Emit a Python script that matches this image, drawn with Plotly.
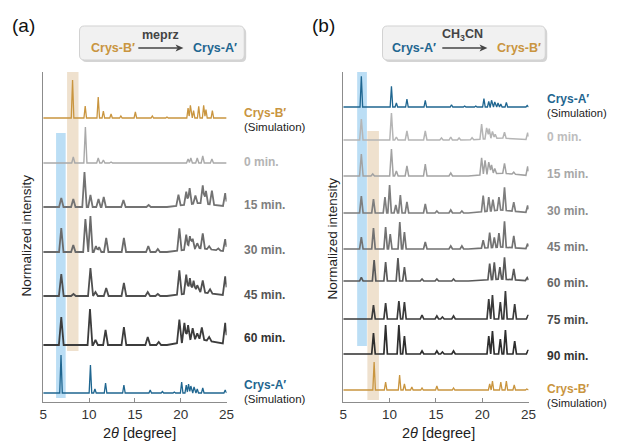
import plotly.graph_objects as go

W, H = 617, 443

# ---------------- data (2theta positions and relative intensities) -------------
# Panel (a): Crys-B' -> Crys-A' (meprz)
a_Bsim_pos = [8.2, 9.58, 11.0, 11.56, 12.4, 13.47, 15.05, 16.9, 18.5, 20.8, 21.05, 21.4, 21.96, 22.5, 22.75, 23.45]
a_Bsim_h = [38, 12, 21, 7, 4, 2, 6, 2, 1, 10, 12.7, 7.3, 11.7, 12.7, 8.3, 7.3]
a_0_pos = [8.28, 9.6, 11.0, 11.56, 12.4, 20.8, 21.1, 21.8, 22.4, 23.4]
a_0_h = [6, 36, 5, 3, 1, 4, 5, 5, 7, 4]
a_15_pos = [6.97, 8.28, 9.5, 10.15, 11.03, 11.6, 13.75, 16.5, 19.75, 20.6, 20.97, 21.6, 22.4, 22.75, 23.4, 24.85]
a_15_h = [9, 8, 35, 12, 8, 10, 7, 2, 11, 13, 16, 8, 18, 13, 14, 13]
a_30_pos = [6.97, 8.28, 9.6, 10.15, 10.75, 11.1, 11.87, 13.8, 16.46, 17.5, 19.85, 20.6, 21.0, 21.3, 21.8, 22.4, 23.1, 24.1, 24.85]
a_30_h = [24, 7, 33, 36, 6, 5, 14, 14, 6, 3, 22, 15, 13, 10, 5, 15, 3, 2, 12]
a_45_pos = [6.97, 8.3, 10.15, 10.7, 11.87, 13.8, 16.4, 17.5, 19.85, 20.6, 21.0, 21.4, 21.8, 22.4, 23.2, 24.85]
a_45_h = [22, 2, 28, 4, 8, 13, 4, 2, 24, 19, 15, 12, 7, 12, 4, 19]
a_60_pos = [6.97, 10.1, 10.7, 11.8, 13.8, 16.4, 17.6, 19.85, 20.4, 20.8, 21.3, 21.8, 22.3, 23.1, 24.85]
a_60_h = [28, 36, 5, 15, 18, 8, 3, 23, 19, 16, 12, 6, 12, 4, 21]
a_Asim_pos = [6.94, 10.15, 10.64, 11.8, 13.8, 16.67, 18.0, 19.3, 20.1, 20.6, 20.85, 21.1, 21.45, 21.8, 22.4, 24.85]
a_Asim_h = [38, 28, 4, 10, 8, 3, 1.5, 1, 11, 8, 9, 7, 6, 4, 5, 3]

# Panel (b): Crys-A' -> Crys-B' (CH3CN)
b_Asim_pos = [6.95, 10.2, 10.73, 11.87, 13.85, 16.68, 18.1, 19.3, 20.18, 20.7, 21.0, 21.35, 21.7, 22.0, 22.6, 24.85]
b_Asim_h = [30.7, 20.7, 4, 8, 6.7, 2.3, 1, 1, 8.3, 5.7, 6.7, 5, 4, 3, 4.7, 1.5]
b_0_pos = [6.95, 10.2, 10.73, 11.87, 13.85, 15.6, 16.6, 17.5, 18.9, 19.93, 20.47, 20.75, 21.1, 21.4, 22.4, 24.9]
b_0_h = [21, 27, 3, 9, 9, 2, 3, 2, 2, 15, 11, 10, 7, 4, 6, 7]
b_15_pos = [6.95, 8.18, 10.2, 10.73, 11.87, 13.85, 16.6, 19.93, 20.3, 20.7, 21.0, 21.35, 22.4, 23.4, 24.9]
b_15_h = [22, 2, 27, 5, 10, 12, 3, 17, 14, 12, 9, 5, 10, 2, 9]
b_30_pos = [6.95, 8.26, 9.5, 10.0, 10.67, 11.16, 11.87, 13.85, 15.1, 16.6, 17.8, 20.1, 20.7, 21.15, 21.8, 22.4, 23.4, 24.9]
b_30_h = [17, 14, 16, 28, 8, 18, 11, 9, 2, 3, 2, 16, 14, 11, 13, 23, 9, 7]
b_45_pos = [6.95, 8.26, 9.57, 10.07, 11.1, 11.6, 13.85, 16.6, 17.8, 20.1, 20.8, 21.3, 21.8, 22.4, 23.4, 24.9]
b_45_h = [12, 21, 22, 15, 27, 17, 7, 3, 3, 8, 15, 10, 14, 26, 12, 5]
b_60_pos = [6.95, 8.33, 9.57, 10.9, 11.6, 13.5, 15.1, 16.9, 20.8, 21.3, 21.9, 22.4, 23.4, 24.85]
b_60_h = [3.7, 21, 19, 23, 14, 2, 2, 2, 16, 17, 12, 22, 11, 3]
b_75_pos = [8.26, 9.57, 11.0, 11.6, 13.5, 15.1, 15.7, 16.9, 20.7, 21.1, 21.95, 22.5, 23.5, 24.95]
b_75_h = [14, 16, 18, 17, 4, 3, 2, 3, 20, 24, 17, 28, 15, 4]
b_90_pos = [8.26, 9.57, 11.0, 11.6, 13.5, 15.1, 15.7, 16.9, 20.7, 21.1, 21.95, 22.5, 23.5, 24.95]
b_90_h = [21, 29, 29, 18, 3, 3, 2, 3, 18, 23, 15, 24, 13, 4]
b_Bsim_pos = [8.33, 9.57, 11.08, 11.6, 12.4, 13.5, 15.1, 16.9, 20.8, 21.1, 22.0, 22.6, 23.45, 24.8]
b_Bsim_h = [28, 8, 15, 6, 3, 2, 4, 2, 6, 9, 8, 9, 5, 1]

# broad amorphous background hump (centre, height, half-width) under experimental patterns
a_hump = {"15": (22.0, 4, 3.5), "30": (22.0, 4, 3.5), "45": (22.0, 4, 3.5), "60": (22.0, 6, 3.5)}
b_hump = {"0": (22.0, 2, 3.5), "15": (22.0, 3, 3.5), "30": (22.0, 3, 3.5), "45": (22.0, 2, 3.5), "60": (22.0, 2, 3.5)}

tick_vals = [5, 10, 15, 20, 25]
tick_text = ["5", "10", "15", "20", "25"]

# ---------------- styling / layout ----------------
ORANGE = "#C9953F"
BLUE = "#1F6690"
FONT = "Liberation Sans, Arial, sans-serif"
Y_TOP, Y_BOT = 72, 402           # plot area top/bottom (px)
XA = (40, 227)                   # panel (a) x extents (px)
XB = (346, 535)                  # panel (b) x extents (px)


def px(x, y):
    return x / W, 1 - y / H


def profile(pos, h, hw, hump=None):
    """Piecewise-linear sum of triangular peaks evaluated at its own breakpoints."""
    pts = {5.0, 25.0}
    for p in pos:
        pts.update([p - hw, p, p + hw])
    if hump:
        c, hh, w = hump
        pts.update([c - w, c + w])
    xs = sorted(x for x in pts if 5.0 <= x <= 25.0)
    ys = []
    for x in xs:
        v = 0.0
        for p, hh in zip(pos, h):
            d = abs(x - p)
            if d < hw:
                v += hh * (1 - d / hw)
        if hump:
            c, hh, w = hump
            d = abs(x - c)
            if d < w:
                v += hh * (1 - d / w)
        ys.append(v)
    return xs, ys


fig = go.Figure()

series_a = [
    (a_Bsim_pos, a_Bsim_h, Y_BOT - 118, ORANGE, 1.3, 0.14, None),
    (a_0_pos, a_0_h, Y_BOT - 163, "#A9A9A9", 1.4, 0.17, None),
    (a_15_pos, a_15_h, Y_BOT - 207, "#737373", 1.8, 0.24, a_hump["15"]),
    (a_30_pos, a_30_h, Y_BOT - 252, "#6A6A6A", 1.8, 0.24, a_hump["30"]),
    (a_45_pos, a_45_h, Y_BOT - 296, "#4F4F4F", 1.8, 0.26, a_hump["45"]),
    (a_60_pos, a_60_h, Y_BOT - 345, "#3C3C3C", 1.8, 0.26, a_hump["60"]),
    (a_Asim_pos, a_Asim_h, Y_BOT - 393, BLUE, 1.3, 0.14, None),
]
series_b = [
    (b_Asim_pos, b_Asim_h, Y_BOT - 107, BLUE, 1.3, 0.14, None),
    (b_0_pos, b_0_h, Y_BOT - 140, "#B5B5B5", 1.5, 0.18, b_hump["0"]),
    (b_15_pos, b_15_h, Y_BOT - 176, "#A2A2A2", 1.5, 0.19, b_hump["15"]),
    (b_30_pos, b_30_h, Y_BOT - 213, "#7E7E7E", 1.7, 0.19, b_hump["30"]),
    (b_45_pos, b_45_h, Y_BOT - 249, "#727272", 1.7, 0.19, b_hump["45"]),
    (b_60_pos, b_60_h, Y_BOT - 281, "#595959", 1.7, 0.19, b_hump["60"]),
    (b_75_pos, b_75_h, Y_BOT - 319, "#3A3A3A", 1.7, 0.19, None),
    (b_90_pos, b_90_h, Y_BOT - 354, "#2E2E2E", 1.7, 0.19, None),
    (b_Bsim_pos, b_Bsim_h, Y_BOT - 390, ORANGE, 1.3, 0.14, None),
]

for axes, series in (("x", series_a), ("x2", series_b)):
    yax = "y" if axes == "x" else "y2"
    for pos, h, off, col, lw, hw, hump in series:
        xs, ys = profile(pos, h, hw, hump)
        fig.add_trace(go.Scatter(x=xs, y=[off + v for v in ys], mode="lines",
                                 line=dict(color=col, width=lw), xaxis=axes, yaxis=yax,
                                 showlegend=False, hoverinfo="skip"))

# highlighted bands
BLUE_BAND = "rgba(150,205,240,0.65)"
ORG_BAND = "rgba(232,212,185,0.7)"
shapes = [
    dict(type="rect", xref="x", yref="y", x0=6.4, x1=7.45, y0=Y_BOT - 398, y1=Y_BOT - 133,
         fillcolor=BLUE_BAND, line_width=0, layer="below"),
    dict(type="rect", xref="x", yref="y", x0=7.6, x1=8.85, y0=Y_BOT - 351, y1=Y_BOT - 72,
         fillcolor=ORG_BAND, line_width=0, layer="below"),
    dict(type="rect", xref="x2", yref="y2", x0=6.5, x1=7.55, y0=Y_BOT - 346, y1=Y_BOT - 72,
         fillcolor=BLUE_BAND, line_width=0, layer="below"),
    dict(type="rect", xref="x2", yref="y2", x0=7.6, x1=8.85, y0=Y_BOT - 400, y1=Y_BOT - 131,
         fillcolor=ORG_BAND, line_width=0, layer="below"),
]


def ppt(x, y):
    a, b = px(x, y)
    return f"{a:.5f},{b:.5f}"


def rounded(x0, y0, x1, y1, r):
    p = ppt
    return (f"M {p(x0 + r, y0)} L {p(x1 - r, y0)} Q {p(x1, y0)} {p(x1, y0 + r)} "
            f"L {p(x1, y1 - r)} Q {p(x1, y1)} {p(x1 - r, y1)} L {p(x0 + r, y1)} "
            f"Q {p(x0, y1)} {p(x0, y1 - r)} L {p(x0, y0 + r)} Q {p(x0, y0)} {p(x0 + r, y0)} Z")


for bx0, bx1 in ((77, 245), (386, 552)):
    shapes.append(dict(type="path", xref="paper", yref="paper", path=rounded(bx0 + 2, 28, bx1 + 2, 62, 5),
                       fillcolor="rgba(160,160,160,0.45)", line_width=0))
    shapes.append(dict(type="path", xref="paper", yref="paper", path=rounded(bx0, 26, bx1, 60, 5),
                       fillcolor="#F1F1F1", line=dict(color="#D2D2D2", width=1)))

# reaction arrows (line + filled head)
for tx, hx in ((137, 183), (447, 493)):
    ay = 48
    x0, y0 = px(tx, ay)
    x1, y1 = px(hx - 6, ay)
    shapes.append(dict(type="line", xref="paper", yref="paper", x0=x0, y0=y0, x1=x1, y1=y1,
                       line=dict(color="#444", width=1.3)))
    shapes.append(dict(type="path", xref="paper", yref="paper",
                       path=f"M {ppt(hx, ay)} L {ppt(hx - 8, ay - 3.5)} L {ppt(hx - 6, ay)} L {ppt(hx - 8, ay + 3.5)} Z",
                       fillcolor="#444", line_width=0))

annotations = []


def text(x, y, s, size=12, color="#000", bold=False, xanchor="left", angle=0, xref="paper"):
    a, b = px(x, y)
    annotations.append(dict(x=a, y=b, xref=xref, yref="paper", text=f"<b>{s}</b>" if bold else s,
                            showarrow=False, xanchor=xanchor, yanchor="middle", textangle=angle,
                            font=dict(family=FONT, size=size, color=color)))


# panel letters
text(20, 25, "(a)", 19, "#111", xanchor="center")
text(326, 25, "(b)", 19, "#111", xanchor="center")

# reaction boxes
text(111, 48, "Crys-B′", 12.5, ORANGE, True, "center")
text(160, 35, "meprz", 12.5, "#444", True, "center")
text(215, 48, "Crys-A′", 12.5, BLUE, True, "center")
text(418, 48, "Crys-A′", 12.5, BLUE, True, "center")
text(468, 35, "CH<sub>3</sub>CN", 12.5, "#444", True, "center")
text(525, 48, "Crys-B′", 12.5, ORANGE, True, "center")

# trace labels panel (a)
LA = 243
text(LA, 113, "Crys-B′", 12, ORANGE, True)
text(LA, 127, "(Simulation)", 11.5, "#222")
for yy, s, c in ((162, "0 min.", "#B4B4B4"), (205, "15 min.", "#808080"), (250, "30 min.", "#747474"),
                 (295, "45 min.", "#555555"), (338, "60 min.", "#333333")):
    text(LA, yy, s, 12, c, True)
text(LA, 385, "Crys-A′", 12, BLUE, True)
text(LA, 399, "(Simulation)", 11.5, "#222")

# trace labels panel (b)
LB = 552
text(LB, 99, "Crys-A′", 12, BLUE, True)
text(LB, 113, "(Simulation)", 11.2, "#222")
for yy, s, c in ((137, "0 min.", "#BDBDBD"), (174, "15 min.", "#A8A8A8"), (211, "30 min.", "#8E8E8E"),
                 (247, "45 min.", "#7A7A7A"), (283, "60 min.", "#666666"), (320, "75 min.", "#4A4A4A"),
                 (356, "90 min.", "#333333")):
    text(LB, yy, s, 12, c, True)
text(LB, 389, "Crys-B′", 12, ORANGE, True)
text(LB, 403, "(Simulation)", 11.2, "#222")

# axis titles
text(23, 236, "Normalized intensity", 13.5, "#222", xanchor="center", angle=-90)
text(335, 238, "Normalized intensity", 13.5, "#222", xanchor="center", angle=-90)
text(138, 433, "2<i>θ</i> [degree]", 14.5, "#222", xanchor="center")
text(443, 433, "2<i>θ</i> [degree]", 14.5, "#222", xanchor="center")

ydom = [(H - Y_BOT) / H, (H - Y_TOP) / H]
xaxis_common = dict(range=[5, 25], showline=True, linecolor="#8C8C8C", linewidth=1, showgrid=False,
                    zeroline=False, ticks="inside", ticklen=4, tickcolor="#8C8C8C",
                    tickvals=tick_vals, ticktext=tick_text,
                    tickfont=dict(family=FONT, size=13.5, color="#333"), fixedrange=True)
yaxis_common = dict(range=[0, Y_BOT - Y_TOP], domain=ydom, showline=True, linecolor="#8C8C8C",
                    linewidth=1, showgrid=False, zeroline=False, showticklabels=False, ticks="",
                    fixedrange=True)

fig.update_layout(
    width=W, height=H, margin=dict(l=0, r=0, t=0, b=0),
    paper_bgcolor="white", plot_bgcolor="white",
    xaxis=dict(domain=[XA[0] / W, XA[1] / W], anchor="y", **xaxis_common),
    yaxis=dict(anchor="x", **yaxis_common),
    xaxis2=dict(domain=[XB[0] / W, XB[1] / W], anchor="y2", **xaxis_common),
    yaxis2=dict(anchor="x2", **yaxis_common),
    shapes=shapes, annotations=annotations, showlegend=False,
)

fig.write_html("out.html", config={"displayModeBar": False},
               post_script="document.body.style.margin='0';document.body.style.overflow='hidden';")
